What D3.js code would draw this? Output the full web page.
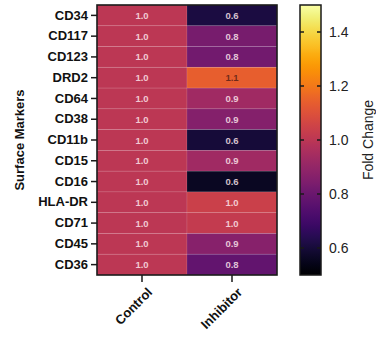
<!DOCTYPE html>
<html>
<head>
<meta charset="utf-8">
<script src="https://cdn.jsdelivr.net/npm/d3@7/dist/d3.min.js"></script>
<style>
  html, body { margin: 0; padding: 0; background: #fff; }
  svg { display: block; font-family: "Liberation Sans", Arial, sans-serif; }
</style>
</head>
<body>
<svg id="chart" width="376" height="337"></svg>
<script>
// Surface marker expression, fold change relative to control
const markers = ["CD34", "CD117", "CD123", "DRD2", "CD64", "CD38", "CD11b",
                 "CD15", "CD16", "HLA-DR", "CD71", "CD45", "CD36"];
const groups = ["Control", "Inhibitor"];
const controlValues   = [1.0, 1.0, 1.0, 1.0, 1.0, 1.0, 1.0, 1.0, 1.0, 1.0, 1.0, 1.0, 1.0];
const inhibitorValues = [0.61, 0.83, 0.82, 1.14, 0.93, 0.86, 0.60, 0.93, 0.56, 1.04, 1.02, 0.87, 0.78];
const colorDomain = [0.5, 1.5];
const colorTicks = [0.6, 0.8, 1.0, 1.2, 1.4];

const seriesByGroup = { "Control": controlValues, "Inhibitor": inhibitorValues };
const cells = [];
groups.forEach(g => markers.forEach((m, i) => cells.push({ group: g, marker: m, value: seriesByGroup[g][i] })));

const svg = d3.select("#chart");
const plot = { left: 97, right: 277, top: 5, bottom: 275 };

const x = d3.scaleBand().domain(groups).range([plot.left, plot.right]).padding(0);
const y = d3.scaleBand().domain(markers).range([plot.top, plot.bottom]).padding(0);
const color = d3.scaleSequential(d3.interpolateInferno).domain(colorDomain);

// heatmap cells
svg.append("g").selectAll("rect").data(cells).join("rect")
  .attr("x", d => x(d.group))
  .attr("y", d => y(d.marker))
  .attr("width", x.bandwidth())
  .attr("height", y.bandwidth())
  .attr("fill", d => color(d.value))
  .attr("stroke", "rgba(255,255,255,0.12)")
  .attr("stroke-width", 0.8);

// value labels
svg.append("g").selectAll("text").data(cells).join("text")
  .attr("x", d => x(d.group) + x.bandwidth() / 2)
  .attr("y", d => y(d.marker) + y.bandwidth() / 2)
  .attr("text-anchor", "middle")
  .attr("dominant-baseline", "central")
  .attr("font-size", 9.5)
  .attr("font-weight", "bold")
  .attr("fill", d => d.value > 1.1 ? "rgba(70,25,20,0.75)" : "rgba(255,236,240,0.82)")
  .text(d => d3.format(".1f")(d.value));

// heatmap frame
svg.append("rect")
  .attr("x", plot.left).attr("y", plot.top)
  .attr("width", plot.right - plot.left).attr("height", plot.bottom - plot.top)
  .attr("fill", "none").attr("stroke", "#1a1a1a").attr("stroke-width", 1.6);

// y axis
const yAxis = svg.append("g")
  .attr("transform", `translate(${plot.left},0)`)
  .call(d3.axisLeft(y).tickSize(6).tickPadding(3));
yAxis.select(".domain").remove();
yAxis.selectAll(".tick line").attr("stroke", "#1a1a1a").attr("stroke-width", 1.5);
yAxis.selectAll(".tick text")
  .attr("font-size", 13).attr("font-weight", "bold").attr("fill", "#111")
  .attr("font-family", "Liberation Sans, Arial, sans-serif");

// x axis
const xAxis = svg.append("g")
  .attr("transform", `translate(0,${plot.bottom})`)
  .call(d3.axisBottom(x).tickSize(7).tickPadding(3));
xAxis.select(".domain").remove();
xAxis.selectAll(".tick line").attr("stroke", "#1a1a1a").attr("stroke-width", 1.5);
xAxis.selectAll(".tick text")
  .attr("font-size", 13).attr("font-weight", "bold").attr("fill", "#111")
  .attr("font-family", "Liberation Sans, Arial, sans-serif")
  .attr("text-anchor", "end")
  .attr("dy", null)
  .attr("transform", "translate(4,11) rotate(-45)");

// y axis title
svg.append("text")
  .attr("transform", `translate(24,${(plot.top + plot.bottom) / 2}) rotate(-90)`)
  .attr("text-anchor", "middle")
  .attr("font-size", 13).attr("font-weight", "bold").attr("fill", "#111")
  .text("Surface Markers");

// colour bar
const bar = { left: 300, width: 21, top: 5, bottom: 275 };
const cbScale = d3.scaleLinear().domain(colorDomain).range([bar.bottom, bar.top]);
const defs = svg.append("defs");
const grad = defs.append("linearGradient").attr("id", "foldGrad")
  .attr("x1", 0).attr("y1", 1).attr("x2", 0).attr("y2", 0);
d3.range(0, 1.0001, 0.02).forEach(t => {
  grad.append("stop").attr("offset", t).attr("stop-color", color(colorDomain[0] + t * (colorDomain[1] - colorDomain[0])));
});
svg.append("rect")
  .attr("x", bar.left).attr("y", bar.top)
  .attr("width", bar.width).attr("height", bar.bottom - bar.top)
  .attr("fill", "url(#foldGrad)")
  .attr("stroke", "#1a1a1a").attr("stroke-width", 1.5);

const cbTicks = svg.append("g");
colorTicks.forEach(v => {
  const yy = cbScale(v);
  cbTicks.append("line").attr("x1", bar.left).attr("x2", bar.left + 4)
    .attr("y1", yy).attr("y2", yy).attr("stroke", "#1a1a1a").attr("stroke-width", 1.5);
  cbTicks.append("line").attr("x1", bar.left + bar.width - 4).attr("x2", bar.left + bar.width)
    .attr("y1", yy).attr("y2", yy).attr("stroke", "#1a1a1a").attr("stroke-width", 1.5);
  cbTicks.append("text")
    .attr("x", bar.left + bar.width + 8).attr("y", yy)
    .attr("dominant-baseline", "central")
    .attr("font-size", 14).attr("fill", "#222")
    .text(d3.format(".1f")(v));
});

svg.append("text")
  .attr("transform", `translate(368,${(bar.top + bar.bottom) / 2}) rotate(-90)`)
  .attr("text-anchor", "middle")
  .attr("dominant-baseline", "central")
  .attr("font-size", 14).attr("fill", "#222")
  .text("Fold Change");
</script>
</body>
</html>
